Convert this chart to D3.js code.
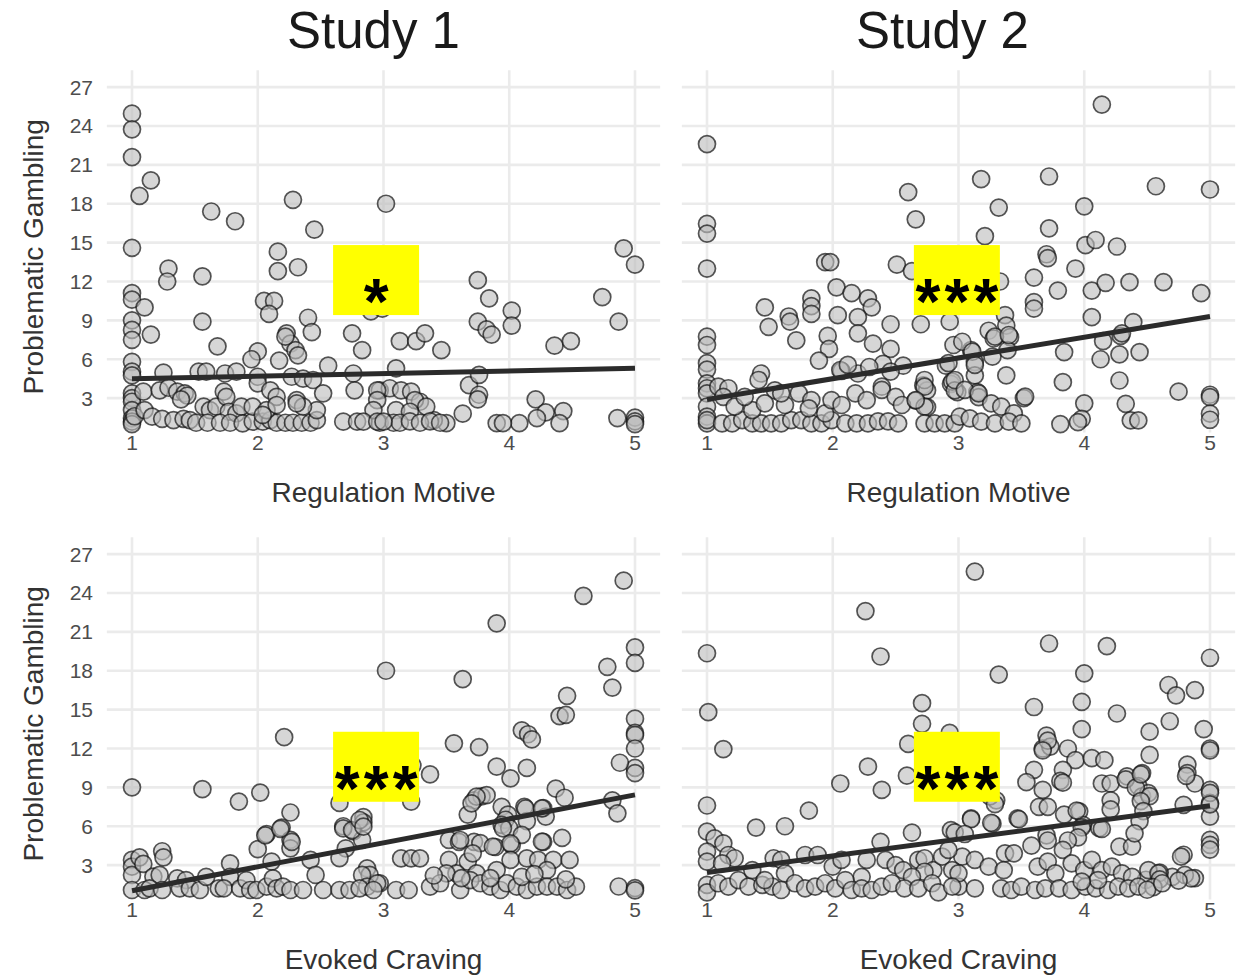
<!DOCTYPE html>
<html>
<head>
<meta charset="utf-8">
<script src="https://cdn.jsdelivr.net/npm/d3@7"></script>
<style>
  html, body { margin: 0; padding: 0; background: #fff; }
  svg { display: block; }
</style>
</head>
<body>
<svg id="chart" width="1242" height="976"></svg>
<script>
// ---------------- DATA ----------------
const studyTitles = ["Study 1", "Study 2"];
const xAxisTitles = ["Regulation Motive", "Evoked Craving"];
const yAxisTitle = "Problematic Gambling";
const xTicks = [1, 2, 3, 4, 5];
const yTicks = [3, 6, 9, 12, 15, 18, 21, 24, 27];
const sigLabels = ["*", "***", "***", "***"];

// fitted regression line values at x = 1 and x = 5
const study1RegulationFit = [4.5, 5.3];
const study2RegulationFit = [2.9, 9.3];
const study1CravingFit = [1.02, 8.42];
const study2CravingFit = [2.43, 7.58];

// [x, y] observations
const study1Regulation = [
[1,24.95],[1,23.74],[1,21.6],[1.15,19.8],[1.06,18.6],[1,14.6],[1.29,13.0],[1.28,12.0],[1.56,12.4],[1,11.1],[1,10.6],[1.1,10.0],[1,9.0],[1,8.26],[1,7.5],[1.15,7.9],[1.56,8.9],[1.63,17.4],[1.82,16.65],[1.68,7.0],
[2.28,18.3],[2.45,16.0],[2.16,14.3],[2.16,12.8],[2.32,13.1],[2.05,10.5],[2.13,10.5],[2.09,9.5],[2.4,9.2],[2.43,8.1],[2.23,8.0],[2.26,7.2],[2.3,6.7],[2.32,6.3],[2.0,6.6],[1.95,6.0],[2.17,5.9],[2.22,7.74],
[3.02,18.0],[2.9,9.7],[2.99,9.9],[2.75,8.0],[2.83,6.7],[3.13,7.4],[3.26,7.4],[3.33,8.0],[3.46,6.7],[2.56,5.5],[2.76,4.9],[3.1,5.3],
[3.75,12.1],[3.84,10.7],[3.75,8.9],[3.82,8.3],[3.86,7.9],[4.02,9.75],[4.02,8.6],[4.36,7.05],[4.49,7.4],[4.74,10.8],[4.87,8.9],[4.91,14.55],[5.0,13.3],
[3.68,4.0],[3.76,4.8],[3.76,3.26],[3.75,2.9],[4.21,2.9],[4.29,1.9],[4.43,2.0],[4.22,1.46],[4.4,1.07],[4.08,1.07],[3.9,1.07],[3.95,1.07],[3.63,1.8],[3.5,1.07],[3.4,1.3],[4.86,1.46],[5,1.5],[5,1.2],[5,1.0],
[2.97,3.6],[3.05,3.76],[3.14,3.6],[3.22,3.5],[3.29,2.72],[3.25,2.85],[3.34,2.34],[3.1,2.08],[3.21,1.95],[2.97,1.1],[3.08,1.1],[3.13,1.1],[3.21,1.2],[3.29,1.1],[3.37,1.2],[3.45,1.1],
[1,5.8],[1,5.04],[1,4.75],[1.25,4.96],[1.53,5.04],[1.59,5.04],[1.74,4.9],[1.83,5.04],[2.0,4.65],[2.0,4.14],[2.1,3.6],[2.15,3.1],[2.27,4.65],[2.36,4.5],[2.44,4.4],[2.52,3.37],[2.77,3.6],[2.95,3.6],[2.95,2.85],[2.92,2.08],
[1,3.37],[1,3.0],[1,2.72],[1,2.08],[1,1.44],[1,1.18],[1,1.0],[1.02,1.6],[1.09,3.5],[1.1,2.08],[1.16,1.57],[1.22,3.6],[1.29,3.8],[1.36,3.5],[1.42,3.37],[1.44,3.2],[1.39,2.9],[1.24,1.4],[1.33,1.3],[1.41,1.4],[1.46,1.3],[1.51,1.1],
[1.57,2.34],[1.62,2.08],[1.67,2.34],[1.73,3.5],[1.75,3.1],[1.77,1.95],[1.83,1.82],[1.87,2.34],
[1.6,1.1],[1.7,1.1],[1.78,1.1],[1.88,1.05],[1.96,1.18],[2.04,1.18],[2.1,1.3],[2.15,1.1],[2.22,1.1],[2.28,1.1],[2.35,1.1],[2.42,1.1],[2.47,1.3],[2.47,2.08],
[1.96,2.34],[2.07,2.08],[2.15,2.47],[2.31,2.85],[2.36,2.34],[2.04,1.7],[2.31,2.6],
[2.68,1.18],[2.79,1.18],[2.84,1.18],[2.95,1.18],[3.0,1.18]
];

const study2Regulation = [
[4.14,25.65],[1,22.6],[1,16.45],[1,15.7],[1,13.0],[3.18,19.9],[2.6,18.9],[2.66,16.8],[3.32,17.7],[3.21,15.5],[3.72,20.1],[3.72,16.1],[4.0,17.8],[4.57,19.35],[5,19.1],
[4.01,14.8],[4.09,15.2],[4.26,14.7],[3.7,14.1],[3.71,13.8],[3.93,13.0],[3.6,12.3],[3.79,11.3],[4.06,11.3],[4.17,11.9],[4.36,11.95],[4.63,11.95],[4.93,11.1],[3.6,10.4],[3.6,9.9],
[4.06,9.25],[4.39,8.86],[4.29,7.8],[4.3,8.0],[4.15,7.4],[4.13,6.0],[4.28,6.37],[4.44,6.55],[3.84,6.55],[3.83,4.23],[4.28,4.36],[4.75,3.5],[5,3.26],[5,3.08],[5,1.8],[5,1.33],
[4.0,2.6],[4.33,2.56],[3.98,1.4],[3.95,1.15],[4.37,1.28],[4.43,1.28],[3.81,1.0],
[2.51,13.3],[2.63,12.8],[3.33,12.0],[1.94,13.5],[1.98,13.5],[2.03,11.55],[2.15,11.1],[2.28,10.7],[2.31,10.0],[1.83,10.7],[1.83,10.1],[1.83,9.5],[1.46,10.0],[1.65,9.3],[1.66,8.9],[1.49,8.5],[1.71,7.45],
[2.04,9.4],[2.2,9.25],[2.2,8.0],[1.96,7.8],[1.97,6.8],[2.32,7.2],[2.46,8.7],[2.46,6.8],[2.7,8.7],[2.93,8.9],[2.96,7.1],[3.1,6.7],[3.24,8.2],[3.37,9.4],[3.38,8.6],[3.41,7.7],[3.28,7.6],[3.39,6.7],[3.27,6.2],
[1.89,5.9],[2.07,5.1],[2.2,4.9],[2.4,5.65],[2.56,5.5],[2.9,5.5],[3.13,5.78],[3.38,4.75],[3.13,4.75],[2.94,4.1],[2.99,3.46],[2.72,3.98],[2.75,3.6],[3.52,3.0],[3.15,3.46],[3.16,3.08],[2.66,2.8],[2.75,2.3],
[1,7.74],[1,7.1],[1,5.7],[1,5.2],[1,4.14],[1,3.76],[1,3.37],[1,2.34],[1,1.57],[1,1.05],[1,1.3],[1.09,3.88],[1.17,3.76],[1.13,3.1],
[1.43,4.9],[1.41,4.4],[1.54,3.6],[2.06,5.17],[2.12,5.56],[2.29,5.4],[2.46,5.04],[2.39,3.88],[2.73,4.4],[2.73,3.88],[2.73,2.34],[2.92,5.7],[2.95,4.27],[2.97,3.6],
[1.12,1.05],[1.2,1.05],[1.28,1.3],[1.36,1.05],[1.43,1.05],[1.51,1.05],[1.59,1.05],[1.67,1.3],[1.75,1.3],[1.83,1.05],[1.91,1.05],[1.99,1.3],[2.1,1.05],[2.19,1.05],[2.28,1.05],[2.36,1.2],[2.44,1.2],[2.52,1.05],[2.73,1.05],[2.81,1.05],[2.89,1.05],[2.97,1.05],
[1.22,2.34],[1.36,2.08],[1.46,2.6],[1.62,2.47],[1.73,3.37],[1.83,2.85],[1.94,1.82],[1.99,2.85],[2.07,2.47],[2.18,3.37],[2.27,2.85],[2.39,3.63],[2.5,3.1],[2.55,2.47],[2.66,2.85],[1.81,2.21],[1.59,3.37],[1.3,3.1],
[3.29,7.74],[3.4,7.87],[3.03,7.35],[3.11,6.58],[3.13,5.56],[2.97,4.4],[3.05,3.63],[3.16,3.37],[3.26,2.6],[3.34,2.34],[3.44,1.83],[3.53,3.11],[3.01,1.57],[3.09,1.44],[3.18,1.18],[3.29,1.05],[3.4,1.18],[3.5,1.05]
];

const study1Craving = [
[1,9.0],[1.56,8.86],[1.85,7.9],[2.02,8.6],[2.21,12.87],[3.02,18.0],[2.26,7.06],[2.19,5.9],[2.07,5.4],[2.0,4.23],[2.26,4.95],[2.26,4.3],[2.65,7.8],[2.68,6.0],[2.84,6.7],[2.84,6.3],[2.76,5.6],[2.83,4.95],[2.7,4.3],[2.65,3.54],
[3.23,10.7],[3.22,7.9],[3.37,10.0],[3.56,12.4],[3.76,12.1],[3.63,17.35],[3.9,21.66],[4.59,23.77],[4.91,24.95],[5,19.8],[5,18.6],[4.78,18.3],[4.82,16.7],[4.46,16.06],[4.4,14.5],[4.45,14.6],
[4.1,13.4],[4.15,13.1],[4.18,12.7],[4.14,10.5],[3.9,10.6],[4.01,9.7],[5,14.3],[5,13.2],[5,13.05],[5,12.0],[5,10.5],[5,10.1],[4.88,10.9],[4.82,8.0],[4.86,7.0],[4.37,8.9],[4.44,8.2],[4.27,7.4],[4.29,6.75],
[3.72,8.0],[3.78,8.3],[3.82,8.4],[3.67,6.9],[3.94,7.5],[3.99,6.9],[3.97,6.5],[3.94,6.1],[4.0,5.85],[4.12,7.5],[4.14,6.4],[3.52,4.95],[3.6,4.8],[3.72,4.8],[3.77,4.7],[3.89,4.4],[4.02,4.55],[4.1,5.34],[4.27,4.8],[4.42,5.1],
[4.87,1.35],[5,1.23],[5,1.05],[3.74,8.28],[3.7,7.77],[3.95,5.84],[4.13,7.38],[4.26,7.38],[3.61,4.94],[3.87,4.42],[4.01,4.68],[4.26,4.81],
[3.14,3.52],[3.22,3.52],[3.29,3.52],[3.52,3.4],[3.67,3.27],[3.71,3.91],[3.74,2.37],[3.9,2.62],[4.01,3.4],[4.14,3.52],[4.23,3.4],[4.35,3.4],[4.48,3.4],[4.3,2.62],[3.58,2.37],[3.5,2.37],
[2.97,1.6],[3.1,1.08],[3.2,1.08],[3.37,1.34],[3.45,1.6],[3.61,1.08],[3.69,1.85],[3.77,1.6],[3.85,1.34],[3.93,1.08],[3.98,1.6],[4.06,1.34],[4.14,1.08],[4.22,1.34],[4.3,1.34],[4.38,1.34],[4.46,1.08],[4.53,1.34],
[3.62,2.0],[3.85,2.0],[4.1,2.1],[4.45,1.9],[4.2,2.3],[3.4,2.2],
[2.06,5.3],[2.18,5.8],[2.27,4.8],[2.11,3.27],[2.68,5.83],[2.75,5.7],[2.81,6.48],[2.84,5.97],[2.87,2.75],[2.89,2.24],[2.83,2.24],[2.87,1.34],[2.95,1.59],
[1,3.4],[1,2.88],[1,2.24],[1,1.08],[1.06,3.6],[1.09,3.09],[1.24,4.07],[1.25,3.6],[1.17,2.12],[1.22,2.24],[1.1,1.08],[1.14,1.21],[1.24,1.08],
[1.36,1.98],[1.43,1.85],[1.38,1.2],[1.46,1.2],[1.54,1.08],[1.59,2.09],[1.69,1.2],[1.78,3.14],[1.78,2.09],[1.73,1.2],[1.86,1.2],[1.91,1.85],[1.94,1.08],[1.99,1.08],[2.07,1.34],[2.12,1.98],[2.15,1.2],[2.2,1.34],[2.26,1.08],[2.36,1.08],[2.42,3.4],[2.46,2.24],[2.52,1.08],[2.65,1.08],[2.73,1.08],[2.81,1.2],[2.92,1.08]
];

const study2Craving = [
[3.13,25.65],[2.26,22.6],[2.38,19.1],[1,19.35],[1.01,14.8],[1.13,11.95],[1,7.6],[3.72,20.1],[4.18,19.9],[5,19.0],[3.32,17.7],[4.0,17.8],[3.98,15.6],[3.6,15.2],[4.26,14.7],[2.71,15.5],[2.71,13.9],[2.6,12.35],[2.59,9.9],
[4.67,16.9],[4.73,16.1],[4.88,16.5],[4.68,14.1],[4.52,13.3],[4.95,13.5],[5,12.0],[5,11.85],[3.98,13.5],[3.7,13.0],[3.67,12.0],[3.73,12.15],[3.87,12.0],[3.93,11.1],[4.06,11.25],[4.16,11.1],
[3.6,10.35],[3.54,9.4],[3.67,8.8],[3.83,10.35],[3.81,9.5],[3.64,7.5],[3.71,7.5],[4.14,9.3],[4.21,9.3],[4.21,8.0],[4.34,9.85],[4.46,10.1],[4.43,9.1],[4.46,8.3],[4.51,8.55],
[4.82,10.75],[4.82,10.1],[4.88,9.3],[5,8.8],[5,7.8],[5,6.75],[5,4.95],[5,4.57],[5,4.2],[4.79,7.65],[2.28,10.6],[2.06,9.3],[2.39,8.8],[1.81,7.2],[1.39,5.9],[1.62,6.0],
[2.38,4.8],[2.63,5.5],[2.94,5.7],[3.1,6.6],[3.27,6.2],[3.47,6.6],[3.7,5.3],[3.84,6.9],[3.96,7.15],[3.99,6.1],[4.12,5.85],[4.79,3.8],[4.7,2.1],[4.88,2.0],[4.6,2.43],[4.49,1.87],
[2.93,13.2],[3.3,8.0],[3.25,8.3],[3.71,12.6],[3.67,11.86],[4.52,11.5],[3.83,9.36],[4.21,7.3],[4.33,9.62],[4.41,8.98],[4.45,10.0],[4.52,8.33],[4.45,7.94],[4.47,7.17],[4.44,6.4],[4.81,9.88],[5,8.58],[5,7.69],
[3.1,6.54],[3.26,6.27],[3.48,6.54],[2.97,5.52],[3.05,5.4],[3.29,7.71],[3.94,7.2],[3.98,5.91],[4.14,5.79],[3.95,5.14],[3.87,4.9],[3.71,4.9],[3.58,4.5],[3.83,4.17],[4.28,4.43],[4.38,4.43],[4.4,5.45],
[3.03,3.65],[3.13,3.4],[3.24,2.88],[3.37,3.91],[3.44,3.91],[3.36,2.62],[3.63,2.88],[3.71,3.27],[3.77,2.37],[3.9,3.14],[4.0,2.62],[4.06,3.4],[4.14,2.62],[4.22,2.88],[4.3,2.37],[4.38,2.1],[4.51,2.62],[4.59,2.37],[4.77,3.65],[4.8,2.24],[4.85,1.98],
[3.0,1.34],[3.13,1.21],[3.34,1.21],[3.42,1.08],[3.5,1.34],[3.61,1.08],[3.69,1.21],[3.8,1.21],[3.9,1.08],[4.01,1.34],[4.09,1.21],[4.19,1.08],[4.27,1.34],[4.35,1.21],[4.43,1.34],[4.11,1.85],[3.98,1.72],
[4.6,1.9],[4.75,1.8],[4.55,1.3],[4.5,1.1],[4.62,1.6],
[1,5.58],[1.06,5.07],[1.13,4.68],[1,4.04],[1,3.27],[1.17,3.78],[1.22,3.53],[1.12,3.14],
[1.53,3.53],[1.59,3.4],[1.78,3.78],[1.88,3.78],[1.62,2.37],[2.0,2.88],[2.07,3.4],
[2.23,2.1],[2.27,3.4],[2.42,3.4],[2.5,3.0],[2.56,2.62],[2.68,3.4],[2.73,3.53],[2.8,2.62],[2.87,3.65],[2.95,2.62],[3.0,2.37],[2.92,4.17],[2.73,2.49],[2.63,2.1],
[1,1.47],[1,0.9],[1.09,1.6],[1.17,1.34],[1.25,1.85],[1.33,1.34],[1.44,1.47],[1.52,1.34],[1.59,1.08],[1.7,1.6],[1.78,1.21],[1.86,1.34],[1.94,1.6],[2.02,1.21],[2.1,1.85],[2.15,1.08],[2.23,1.21],[2.31,1.08],[2.39,1.34],[2.47,1.6],[2.57,1.21],[2.68,1.21],[2.79,1.6],[2.84,0.9],[2.95,1.34],[1.36,2.62],[1.46,1.85]
];

// ---------------- DRAWING ----------------
const svg = d3.select("#chart");
const FONT = "'Liberation Sans', Arial, sans-serif";

const xDomain = [0.8, 5.2];
const yDomain = [0.35, 28.3];
const xLeft = d3.scaleLinear().domain(xDomain).range([106.85, 660.15]);
const xRight = d3.scaleLinear().domain(xDomain).range([681.85, 1235.15]);
const yTopRow = d3.scaleLinear().domain([0, 27]).range([437, 87.1]);
const yBottomRow = d3.scaleLinear().domain([0, 27]).range([904, 554.1]);

const panels = [
  { data: study1Regulation, fit: study1RegulationFit, x: xLeft,  y: yTopRow,    sig: sigLabels[0], lab: [2.941, 12.11], left: true },
  { data: study2Regulation, fit: study2RegulationFit, x: xRight, y: yTopRow,    sig: sigLabels[1], lab: [2.987, 12.11], left: false },
  { data: study1Craving,    fit: study1CravingFit,    x: xLeft,  y: yBottomRow, sig: sigLabels[2], lab: [2.941, 10.59], left: true },
  { data: study2Craving,    fit: study2CravingFit,    x: xRight, y: yBottomRow, sig: sigLabels[3], lab: [2.987, 10.59], left: false }
];

panels.forEach((p, i) => {
  const g = svg.append("g");
  const [x0, x1] = p.x.range();
  const yb = p.y(yDomain[0]), yt = p.y(yDomain[1]);

  // grid
  g.selectAll("line.h").data(yTicks).join("line")
    .attr("x1", x0).attr("x2", x1)
    .attr("y1", d => p.y(d)).attr("y2", d => p.y(d))
    .attr("stroke", "#ebebeb").attr("stroke-width", 2.6);
  g.selectAll("line.v").data(xTicks).join("line")
    .attr("x1", d => p.x(d)).attr("x2", d => p.x(d))
    .attr("y1", yt).attr("y2", yb)
    .attr("stroke", "#ebebeb").attr("stroke-width", 2.6);

  // x tick labels
  g.selectAll("text.xt").data(xTicks).join("text")
    .attr("x", d => p.x(d)).attr("y", yb + 18)
    .attr("text-anchor", "middle")
    .attr("font-family", FONT).attr("font-size", 21)
    .attr("fill", "#4d4d4d").text(d => d);

  // y tick labels (left column only)
  if (p.left) {
    g.selectAll("text.yt").data(yTicks).join("text")
      .attr("x", 93).attr("y", d => p.y(d) + 7.5)
      .attr("text-anchor", "end")
      .attr("font-family", FONT).attr("font-size", 21)
      .attr("fill", "#4d4d4d").text(d => d);
    g.append("text")
      .attr("transform", `translate(43,${(p.y(13.9))}) rotate(-90)`)
      .attr("text-anchor", "middle")
      .attr("font-family", FONT).attr("font-size", 28)
      .attr("fill", "#333").text(yAxisTitle);
  }

  // points
  g.selectAll("circle").data(p.data).join("circle")
    .attr("cx", d => p.x(d[0])).attr("cy", d => p.y(d[1]))
    .attr("r", 8.5)
    .attr("fill", "#bdbdbd").attr("fill-opacity", 0.62)
    .attr("stroke", "#111").attr("stroke-opacity", 0.7).attr("stroke-width", 1.7);

  // fit line
  const line = d3.line().x(d => p.x(d[0])).y(d => p.y(d[1]));
  g.append("path").datum([[1, p.fit[0]], [5, p.fit[1]]])
    .attr("d", line).attr("fill", "none")
    .attr("stroke", "#2b2b2b").attr("stroke-width", 5);

  // significance label
  const cx = p.x(p.lab[0]), cy = p.y(p.lab[1]);
  g.append("rect").attr("x", cx - 43).attr("y", cy - 35)
    .attr("width", 86).attr("height", 70).attr("fill", "#ffff00");
  const chars = p.sig.split("");
  g.selectAll("text.sig").data(chars).join("text")
    .attr("x", (d, k) => cx + (k - (chars.length - 1) / 2) * 29)
    .attr("y", cy + 44)
    .attr("text-anchor", "middle")
    .attr("font-family", FONT).attr("font-weight", "bold").attr("font-size", 64)
    .attr("fill", "#000").text(d => d);

  // x axis title
  g.append("text")
    .attr("x", (x0 + x1) / 2).attr("y", yb + 70)
    .attr("text-anchor", "middle")
    .attr("font-family", FONT).attr("font-size", 28)
    .attr("fill", "#333").text(xAxisTitles[i < 2 ? 0 : 1]);
});

// study titles
svg.selectAll("text.title").data(studyTitles).join("text")
  .attr("x", (d, i) => i === 0 ? 373.5 : 942.5)
  .attr("y", 48)
  .attr("text-anchor", "middle")
  .attr("font-family", FONT).attr("font-size", 51)
  .attr("fill", "#1a1a1a").text(d => d);
</script>
</body>
</html>
